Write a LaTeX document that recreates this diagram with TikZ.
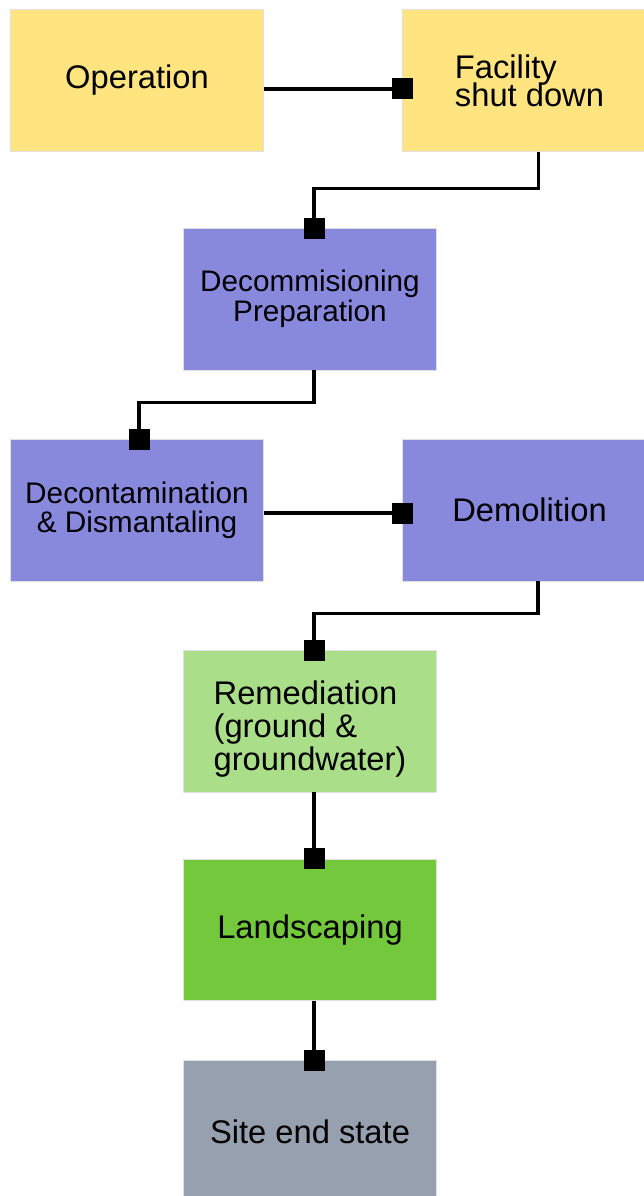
\documentclass[tikz,border=0pt]{standalone}
\usepackage{fontspec}
\setmainfont{Liberation Sans}
\usetikzlibrary{arrows.meta}
\definecolor{myyellow}{RGB}{255, 228, 128}
\definecolor{mypurple}{RGB}{136, 136, 221}
\definecolor{mylightgreen}{RGB}{170, 222, 136}
\definecolor{mygreen}{RGB}{116, 200, 60}
\definecolor{mygrey}{RGB}{150, 160, 174}
\newcommand{\boxfont}[2]{\fontsize{#1}{#2}\selectfont\lineskiplimit=-50pt\relax}

\begin{document}
\begin{tikzpicture}[x=1pt, y=-1pt,
    box/.style={draw=black!12, line width=0.8pt, minimum width=253.5pt, minimum height=141.5pt,
        inner sep=0pt, font={\boxfont{32.7}{33}}},
    link/.style={line width=3.4pt, -{Square[length=21pt, width=21pt]}, shorten >=-10.5pt}]
\useasboundingbox (0,0) rectangle (643,1196);
% shut down
\node[box, fill=myyellow] (op) at (137, 80.5) {Operation};
\node[box, fill=myyellow, align=left, font={\boxfont{32.7}{28}}] (fac) at (529.5, 80.5) {Facility\\shut down};
% decommissioning
\node[box, fill=mypurple, align=center, font={\boxfont{29.7}{30}}] (prep) at (310, 299.3) {Decommisioning\\Preparation};
\node[box, fill=mypurple, align=center, font={\boxfont{29.8}{29}}] (decon) at (137, 510.3) {Decontamination\\\& Dismantaling};
\node[box, fill=mypurple] (demol) at (529.5, 510.3) {Demolition};
% site restoration
\node[box, fill=mylightgreen, align=left, text height=97.4pt, text depth=0pt] (remed) at (310, 721.3) {Remediation\\(ground \&\\groundwater)};
\node[box, fill=mygreen] (land) at (310, 929.7) {Landscaping};
\node[box, fill=mygrey] (site) at (310, 1131.5) {Site end state};
% links
\draw[link] ([yshift=-8.5pt]op.east) -- ([yshift=-8.5pt]fac.west);
\draw[link] ([xshift=9pt]fac.south) -- ++(0,37) -| ([xshift=4pt]prep.north);
\draw[link] ([xshift=4pt]prep.south) -- ++(0,32) -| ([xshift=2pt]decon.north);
\draw[link] ([yshift=-2.7pt]decon.east) -- ([yshift=-2.7pt]demol.west);
\draw[link] ([xshift=8.5pt]demol.south) -- ++(0,32) -| ([xshift=4pt]remed.north);
\foreach \a/\b in {remed/land, land/site} {
    \draw[link] ([xshift=4pt]\a.south) -- ([xshift=4pt]\b.north);
}
\end{tikzpicture}
\end{document}
